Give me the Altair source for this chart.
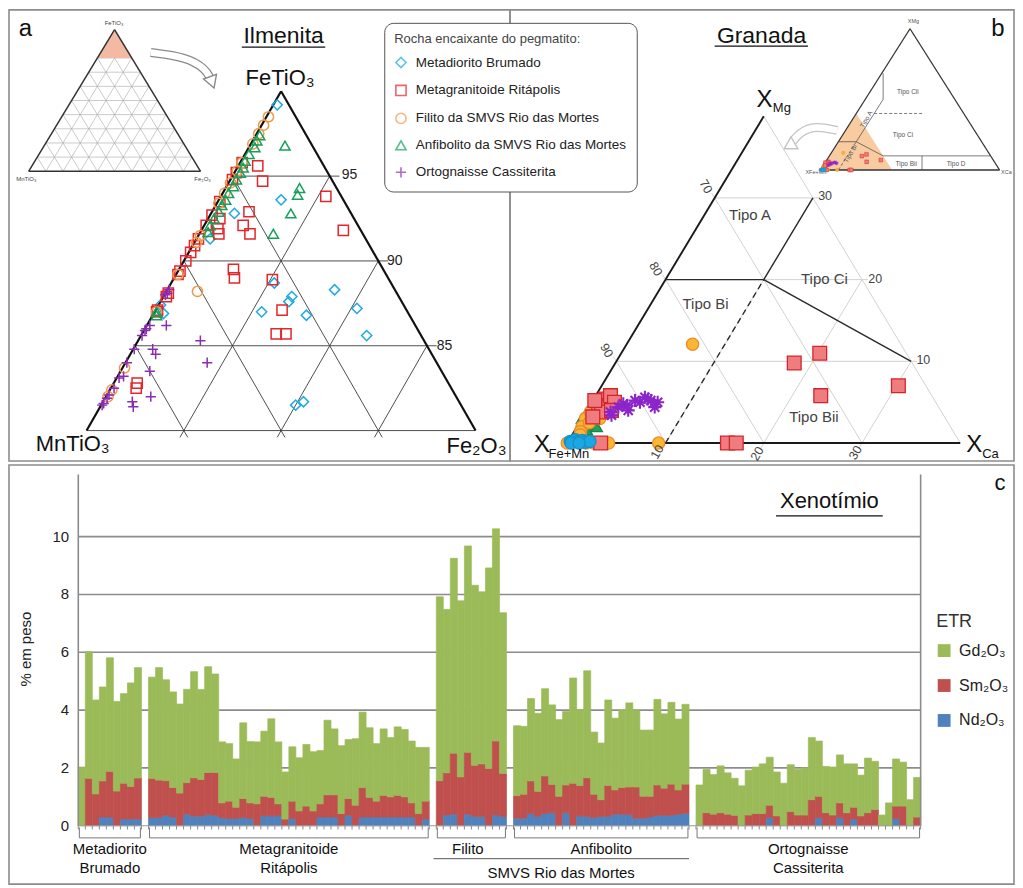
import altair as alt
import pandas as pd

FONT = "Liberation Sans"

# ======================= DATA =======================
# Painel a - Ilmenita: FeTiO3 (%) e Fe2O3 (%); MnTiO3 = 100 - soma
ilm_metadiorito_fetio3 = [99.2, 93.6, 92.8, 91.3, 88.7, 87.9, 87.6, 87.0, 86.8, 88.3, 87.2, 85.6, 81.5, 81.7, 86.9, 87.4]
ilm_metadiorito_fe2o3 = [0.2, 3.2, 1.2, 0.7, 5.3, 6.6, 6.6, 5.5, 7.9, 8.6, 10.3, 11.6, 10.0, 10.3, 0.5, 0.1]
ilm_metagranitoide_fetio3 = [95.6, 94.7, 93.8, 92.9, 92.1, 91.6, 91.9, 91.6, 91.8, 89.5, 89.0, 88.9, 87.1, 85.7, 85.7, 82.8, 82.5,
                             95.8, 95.2, 94.8, 93.5, 92.7, 92.5, 92.1, 91.3, 90.9, 90.5, 90.0, 89.4, 89.2, 88.1, 87.9, 87.1, 87.0]
ilm_metagranitoide_fe2o3 = [1.0, 1.7, 5.4, 1.9, 2.0, 2.6, 0.8, 1.0, 7.3, 2.8, 3.1, 5.1, 6.5, 6.9, 7.4, 1.2, 1.3,
                            0.1, 0.1, 0.1, 0.1, 0.1, 0.6, 0.1, 0.1, 0.1, 0.1, 0.1, 0.1, 0.1, 0.15, 0.15, 0.1, 0.1]
ilm_filito_fetio3 = [98.5, 98.0, 97.5, 96.9, 95.8, 95.3, 94.6, 94.0, 93.4, 91.5, 91.1, 89.2, 87.0, 83.7, 82.4, 82.0, 88.2]
ilm_filito_fe2o3 = [0.1, 0.1, 0.1, 0.1, 0.1, 0.1, 0.1, 0.1, 0.1, 0.1, 0.1, 0.1, 0.1, 0.1, 0.1, 0.1, 1.6]
ilm_anfibolito_fetio3 = [96.8, 94.3, 93.9, 92.8, 91.6, 97.4, 97.1, 96.7, 96.3, 95.9, 95.5, 95.2, 94.8, 94.4, 94.0, 93.6,
                         93.3, 92.9, 92.5, 92.1, 91.7, 87.0, 86.8]
ilm_anfibolito_fe2o3 = [1.8, 3.8, 3.9, 4.1, 3.8, 0.2, 0.2, 0.3, 0.2, 0.2, 0.3, 0.3, 0.3, 0.35, 0.3, 0.35,
                        0.3, 0.35, 0.3, 0.3, 0.4, 0.1, 0.2]
ilm_ortognaisse_fetio3 = [88.3, 88.1, 88.0, 86.2, 86.0, 86.2, 85.3, 84.0, 84.8, 84.5, 83.5, 82.0, 81.7, 81.4, 83.2,
                          82.5, 81.9, 81.6, 85.6, 84.8, 85.9, 84.0, 83.1, 82.1, 81.5]
ilm_ortognaisse_fe2o3 = [0.1, 0.1, 0.05, 0.15, 0.07, 1.0, 3.2, 4.2, 1.0, 1.3, 1.5, 2.3, 1.5, 1.7, 0.3,
                         0.16, 0.1, 0.08, 0.05, 0.05, 0.05, 0.07, 0.12, 0.1, 0.05]

# Painel b - Granada: X_Ca (%) e X_Mg (%); X_Fe+Mn = 100 - soma
grt_metadiorito_ca = [0.2, 0.6, 1.0, 1.4, 1.8, 2.2, 0.4, 1.2]
grt_metadiorito_mg = [0.2, 0.4, 0.2, 0.3, 0.1, 0.2, 0.0, 0.0]
grt_metagranitoide_ca = [20.2, 18.2, 22.9, 30.2, 16.3, 17.2, 1.2, 0.9, 2.0, 1.6, 1.5, 0.2, 2.3, 1.0, 2.5, 3.4]
grt_metagranitoide_mg = [11.0, 9.8, 5.8, 7.0, 0.0, 0.0, 5.4, 4.6, 4.4, 3.8, 5.8, 5.2, 5.0, 3.2, 4.0, 0.0]
grt_filito_ca = [6.7, 0.0, 2.7, 4.2, 9.3, 1.9, 0.35, 0.45, 0.5, 1.45, 0.56, 0.64, 1.0, 1.8, 2.2, 0.8]
grt_filito_mg = [12.1, 0.0, 0.0, 0.0, 0.0, 0.0, 3.0, 3.8, 2.0, 3.8, 4.6, 1.4, 2.5, 3.0, 4.2, 1.0]
grt_anfibolito_ca = [0.0, 0.1, 0.9, 1.5, 0.36, 0.5, 2.0, 0.2, 1.2]
grt_anfibolito_mg = [3.0, 3.8, 2.2, 2.4, 5.0, 4.2, 2.0, 2.6, 1.6]
grt_ortognaisse_ca = [2.8, 3.3, 4.3, 5.1, 6.7, 6.7, 4.2, 3.0, 4.9, 5.5, 3.8, 2.5, 5.9]
grt_ortognaisse_mg = [3.4, 4.8, 5.2, 5.6, 5.0, 4.4, 4.0, 4.4, 5.0, 5.4, 4.6, 3.8, 5.2]

# Painel c - Xenotimio (% em peso)
xen_metadiorito_gd = [2.03, 4.38, 3.25, 3.25, 3.93, 3.10, 3.10, 3.58, 3.82]
xen_metadiorito_sm = [0.00, 1.64, 1.10, 1.25, 1.58, 1.20, 1.24, 1.13, 1.42]
xen_metadiorito_nd = [0.00, 0.00, 0.00, 0.30, 0.30, 0.00, 0.23, 0.23, 0.23]
xen_metagranitoide_gd = [3.50, 3.89, 3.49, 3.31, 3.08, 3.23, 3.67, 3.11, 3.66, 3.41,
                         2.11, 1.99, 1.67, 2.62, 2.12, 2.14, 2.25, 2.72, 2.14, 1.63,
                         1.88, 1.84, 2.13, 2.05, 1.84, 2.58, 2.28, 2.35, 2.04, 2.30,
                         2.61, 2.41, 1.99, 2.30, 2.05, 2.37, 2.33, 2.14, 2.29, 1.86]
xen_metagranitoide_sm = [1.36, 1.30, 1.20, 1.02, 1.13, 1.09, 1.33, 1.27, 1.46, 1.48,
                         0.51, 0.60, 0.39, 0.66, 0.54, 0.76, 0.68, 0.64, 0.42, 0.23,
                         0.60, 0.51, 0.68, 0.51, 0.46, 0.77, 0.77, 0.42, 0.58, 0.71,
                         1.02, 0.68, 0.55, 0.75, 0.70, 0.75, 0.70, 0.49, 0.42, 0.62]
xen_metagranitoide_nd = [0.28, 0.28, 0.36, 0.30, 0.00, 0.40, 0.33, 0.33, 0.38, 0.36,
                         0.28, 0.25, 0.25, 0.28, 0.25, 0.00, 0.34, 0.34, 0.34, 0.00,
                         0.25, 0.00, 0.00, 0.00, 0.30, 0.30, 0.30, 0.00, 0.36, 0.00,
                         0.30, 0.30, 0.30, 0.30, 0.30, 0.30, 0.30, 0.30, 0.00, 0.23]
xen_filito_gd = [6.36, 5.65, 6.74, 6.09, 7.14, 6.23, 5.95, 6.94, 7.34, 5.56]
xen_filito_sm = [1.56, 1.46, 2.11, 1.69, 2.14, 1.77, 1.82, 1.98, 2.56, 1.49]
xen_filito_nd = [0.00, 0.37, 0.40, 0.00, 0.40, 0.32, 0.32, 0.00, 0.37, 0.32]
xen_anfibolito_gd = [2.42, 2.35, 2.85, 2.70, 3.02, 2.75, 2.65, 2.54, 3.64, 2.62,
                     3.70, 2.15, 1.96, 2.96, 2.48, 2.68, 2.91, 2.66, 2.29, 2.29,
                     2.96, 2.57, 2.83, 2.45, 2.76]
xen_anfibolito_sm = [0.78, 0.83, 1.13, 0.87, 1.30, 0.98, 1.02, 0.96, 1.47, 1.05,
                     1.34, 0.81, 0.58, 1.07, 0.84, 0.92, 0.96, 1.08, 0.76, 0.72,
                     1.05, 0.94, 1.08, 0.84, 1.01]
xen_anfibolito_nd = [0.26, 0.26, 0.42, 0.32, 0.42, 0.45, 0.00, 0.45, 0.00, 0.34,
                     0.32, 0.28, 0.32, 0.32, 0.40, 0.40, 0.38, 0.26, 0.26, 0.30,
                     0.36, 0.36, 0.36, 0.40, 0.43]
xen_ortognaisse_gd = [1.41, 1.50, 1.37, 1.62, 1.43, 1.28, 1.38, 1.55, 1.61, 1.72,
                      1.66, 1.52, 1.47, 1.62, 1.58, 1.63, 2.15, 1.91, 1.60, 1.66,
                      1.66, 1.69, 1.50, 1.41, 1.89, 1.67, 0.37, 0.79, 1.63, 1.52,
                      0.90, 1.37]
xen_ortognaisse_sm = [0.00, 0.45, 0.40, 0.45, 0.40, 0.36, 0.00, 0.37, 0.42, 0.42,
                      0.43, 0.34, 0.00, 0.49, 0.37, 0.37, 0.90, 0.74, 0.45, 0.37,
                      0.51, 0.45, 0.41, 0.34, 0.45, 0.56, 0.00, 0.00, 0.43, 0.68,
                      0.00, 0.30]
xen_ortognaisse_nd = [0.00, 0.00, 0.00, 0.00, 0.00, 0.00, 0.00, 0.00, 0.00, 0.00,
                      0.28, 0.00, 0.00, 0.00, 0.00, 0.00, 0.00, 0.28, 0.00, 0.00,
                      0.28, 0.00, 0.23, 0.00, 0.00, 0.00, 0.00, 0.00, 0.25, 0.00,
                      0.00, 0.00]
xen_grupos_l1 = ["Metadiorito", "Metagranitoide", "Filito", "Anfibolito", "Ortognaisse"]
xen_grupos_l2 = ["Brumado", "Ritápolis", "", "", "Cassiterita"]
xen_grupo_inicio = [0, 10, 51, 62, 88]
xen_yticks = [0, 2, 4, 6, 8, 10]
ETR = ["Gd₂O₃", "Sm₂O₃", "Nd₂O₃"]
ETR_COR = ["#9BBB59", "#C0504D", "#4F81BD"]

SERIES = ["Metadiorito Brumado", "Metagranitoide Ritápolis", "Filito da SMVS Rio das Mortes",
          "Anfibolito da SMVS Rio das Mortes", "Ortognaisse Cassiterita"]
COR = ["#1FA9E1", "#E3262C", "#F0994A", "#17A05C", "#8A2DB2"]
CROSS = "M-1,0H1M0,-1V1"
ASTER = "M-1,0H1M0,-1V1M-0.7,-0.7L0.7,0.7M-0.7,0.7L0.7,-0.7"
FORMA = ["diamond", "square", "circle", "triangle-up", CROSS]

# ======================= HELPERS =======================
WA, WB, HT = 502, 505, 452
WC, HC = 1007, 420


def sc(lo, hi):
    return alt.Scale(domain=[lo, hi], nice=False, zero=False)


def xy(xs, ys, x2=False, y2=False):
    e = {"x": alt.X("x:Q", scale=xs, axis=None), "y": alt.Y("y:Q", scale=ys, axis=None)}
    if x2:
        e["x2"] = alt.X2("x2:Q")
    if y2:
        e["y2"] = alt.Y2("y2:Q")
    return e


def textos(rows, xs, ys, **mk):
    df = pd.DataFrame(rows, columns=["x", "y", "t"])
    return alt.Chart(df).mark_text(font=FONT, **mk).encode(text="t:N", **xy(xs, ys))


def regras(rows, xs, ys, **mk):
    df = pd.DataFrame(rows, columns=["x", "y", "x2", "y2"])
    return alt.Chart(df).mark_rule(**mk).encode(**xy(xs, ys, True, True))


TERN = {
    "main": ("datum.{r} + datum.{t}/2", "datum.{t}*0.8660254"),
    "ins_a": ("37.02 + 0.08838*(datum.{r} + datum.{t}/2)", "82.52 + 0.07226*datum.{t}"),
    "ins_b": ("25.77 + 0.1823*(datum.{r} + datum.{t}/2)", "28.94 + 0.1497*datum.{t}"),
}


def fx(kind, t, r):
    return TERN[kind][0].format(t=t, r=r)


def fy(kind, t, r):
    return TERN[kind][1].format(t=t, r=r)


def tern_segs(rows, kind, xs, ys, **mk):
    df = pd.DataFrame(rows, columns=["t1", "r1", "t2", "r2"])
    return (alt.Chart(df)
            .transform_calculate(x=fx(kind, "t1", "r1"), y=fy(kind, "t1", "r1"),
                                 x2=fx(kind, "t2", "r2"), y2=fy(kind, "t2", "r2"))
            .mark_rule(**mk).encode(**xy(xs, ys, True, True)))


def tern_area(rows, t_base, kind, xs, ys, **mk):
    df = pd.DataFrame(rows, columns=["t", "r"])
    df["tb"] = t_base
    return (alt.Chart(df)
            .transform_calculate(x=fx(kind, "t", "r"), y=fy(kind, "t", "r"), y2=fy(kind, "tb", "r"))
            .mark_area(**mk).encode(**xy(xs, ys, y2=True)))


def tern_pts(t, r, kind, xs, ys, **mk):
    df = pd.DataFrame({"t": t, "r": r})
    return (alt.Chart(df)
            .transform_calculate(x=fx(kind, "t", "r"), y=fy(kind, "t", "r"))
            .mark_point(**mk).encode(**xy(xs, ys)))


def arrow(pts, head, xs, ys, color, shape, angle):
    df = pd.DataFrame(pts, columns=["x", "y"])
    outer = alt.Chart(df).mark_line(interpolate="basis", color=color, strokeWidth=9).encode(**xy(xs, ys))
    inner = alt.Chart(df).mark_line(interpolate="basis", color="white", strokeWidth=6.5).encode(**xy(xs, ys))
    hd = alt.Chart(pd.DataFrame([head], columns=["x", "y"])).mark_point(
        shape=shape, filled=True, fill="white", stroke=color, strokeWidth=1.4, size=190,
        angle=angle, opacity=1).encode(**xy(xs, ys))
    return [outer, inner, hd]


# ======================= PANEL A =======================
xa, ya = sc(36.01, 61.77), sc(67.73, 90.76)

ins_grid = []
for k in range(10, 100, 10):
    ins_grid += [(k, 0, k, 100 - k), (0, k, 100 - k, k), (0, 100 - k, 100 - k, 0)]
ins_edges = [(100, 0, 0, 0), (0, 0, 0, 100), (100, 0, 0, 100)]

main_grid = []
for k in (85, 90, 95):
    main_grid.append((k, 0, k, 100 - k + 0.5))
for k in (5, 10, 15):
    main_grid.append((79.6, k, 100 - k, k))
    main_grid.append((79.6, 20.4 - k, 100 - k, 0))
main_grid.append((80, 0, 80, 20))
main_edges = [(80, 0, 100, 0), (80, 20, 100, 0)]

ilm = [(SERIES[0], ilm_metadiorito_fetio3, ilm_metadiorito_fe2o3),
       (SERIES[1], ilm_metagranitoide_fetio3, ilm_metagranitoide_fe2o3),
       (SERIES[2], ilm_filito_fetio3, ilm_filito_fe2o3),
       (SERIES[3], ilm_anfibolito_fetio3, ilm_anfibolito_fe2o3),
       (SERIES[4], ilm_ortognaisse_fetio3, ilm_ortognaisse_fe2o3)]
dfa = pd.concat([pd.DataFrame({"t": t, "r": r, "serie": s}) for s, t, r in ilm], ignore_index=True)

pts_a = (alt.Chart(dfa)
         .transform_calculate(x=fx("main", "t", "r"), y=fy("main", "t", "r"))
         .mark_point(filled=False, size=105, strokeWidth=1.5, opacity=1)
         .encode(color=alt.Color("serie:N", scale=alt.Scale(domain=SERIES, range=COR), legend=None),
                 shape=alt.Shape("serie:N", scale=alt.Scale(domain=SERIES, range=FORMA), legend=None),
                 **xy(xa, ya)))

layers_a = [
    tern_segs(ins_grid, "ins_a", xa, ya, color="#a8a8a8", strokeWidth=0.6),
    tern_area([(80, 0), (100, 0), (80, 20)], 80, "ins_a", xa, ya, color="#F4B9A3", opacity=1),
    tern_segs(ins_edges, "ins_a", xa, ya, color="#333333", strokeWidth=1.5),
    textos([(41.41, 90.08, "FeTiO₃"), (36.9, 82.15, "MnTiO₃"), (45.96, 82.15, "Fe₂O₃")], xa, ya,
           fontSize=6, color="#444"),
    *arrow([(43.3, 88.58), (45.1, 88.36), (46.11, 87.76), (46.36, 87.26)], (46.45, 87.06),
           xa, ya, "#8a8a8a", "triangle-down", 340),
    tern_segs(main_grid, "main", xa, ya, color="#3a3a3a", strokeWidth=0.9),
    tern_segs(main_edges, "main", xa, ya, color="#111111", strokeWidth=2.2),
    pts_a,
    textos([(49.95, 87.26, "FeTiO₃"), (39.29, 68.58, "MnTiO₃"), (60.05, 68.5, "Fe₂O₃")], xa, ya,
           fontSize=22, color="#111"),
    textos([(53.52, 82.35, "95"), (55.84, 77.96, "90"), (58.4, 73.62, "85")], xa, ya,
           fontSize=14, color="#222"),
    textos([(50.13, 89.41, "Ilmenita")], xa, ya, fontSize=23, color="#111"),
    regras([(47.98, 88.86, 52.27, 88.86)], xa, ya, color="#111", strokeWidth=1.3),
    textos([(36.85, 89.76, "a")], xa, ya, fontSize=24, color="#111"),
]
panel_a = alt.layer(*layers_a).properties(width=WA, height=HT)

# ======================= PANEL B =======================
xb, yb = sc(-5.83, 45.47), sc(-1.90, 45.91)

grid_b = []
for k in (10, 20, 30):
    grid_b.append((k, 0, k, 40 - k + 0.6))          # X_Mg constante
    grid_b.append((-0.6, k, 40 - k, k))               # X_Ca constante
    grid_b.append((k + 0.6, -0.6, 0, k))              # X_Fe+Mn constante
grid_b.append((40, 0, 0, 40))
edges_b = [(0, 0, 40, 0), (0, 0, 0, 40)]
bound_b = [(20, 0, 20, 10), (20, 10, 30, 10), (20, 10, 10, 30)]
dash_b = [(0, 10, 20, 10)]
ins_edges_b = [(100, 0, 0, 0), (0, 0, 0, 100), (100, 0, 0, 100)]
ins_bound_b = [(10, 30, 10, 90), (20, 0, 20, 10), (20, 10, 10, 30), (20, 10, 50, 10),
               (50, 10, 68, 1), (68, 1, 69, 0), (0, 56.7, 10, 51.7)]
ins_dash_b = [(0, 10, 20, 10), (40, 10, 40, 37)]

grt = [(SERIES[3], grt_anfibolito_mg, grt_anfibolito_ca),
       (SERIES[2], grt_filito_mg, grt_filito_ca),
       (SERIES[1], grt_metagranitoide_mg, grt_metagranitoide_ca),
       (SERIES[0], grt_metadiorito_mg, grt_metadiorito_ca),
       (SERIES[4], grt_ortognaisse_mg, grt_ortognaisse_ca)]
ESTILO_B = {
    SERIES[0]: dict(shape="circle", filled=True, fill="#1CA7E3", stroke="#1590C8", size=150),
    SERIES[1]: dict(shape="square", filled=True, fill="#EF7C7E", stroke="#D3252B", size=190),
    SERIES[2]: dict(shape="circle", filled=True, fill="#FBB731", stroke="#EE8A2E", size=150),
    SERIES[3]: dict(shape="triangle-up", filled=True, fill="#1FA05A", stroke="#14884A", size=130),
    SERIES[4]: dict(shape=ASTER, filled=False, color="#8B25C9", size=170),
}

pts_b = []
for s, mg, ca in grt:
    st = dict(ESTILO_B[s])
    sz = st.pop("size")
    pts_b.append(tern_pts(mg, ca, "ins_b", xb, yb, size=max(sz / 14, 7), strokeWidth=0.5, opacity=1, **st))
for s, mg, ca in grt:
    st = dict(ESTILO_B[s])
    sz = st.pop("size")
    sw = 2.1 if s == SERIES[4] else 1.3
    pts_b.append(tern_pts(mg, ca, "main", xb, yb, size=sz, strokeWidth=sw, opacity=1, **st))

leg = alt.Legend(title="Rocha encaixante do pegmatito:", orient="none", legendX=376 - WA, legendY=13,
                 titleFont=FONT, titleFontSize=13, titleFontWeight="normal", titleColor="#444",
                 titleLimit=400, labelFont=FONT, labelFontSize=13.5, labelColor="#222", labelLimit=320,
                 symbolSize=105, symbolStrokeWidth=1.6, rowPadding=10, padding=10, titlePadding=10,
                 labelOffset=8, strokeColor="#555", cornerRadius=9, fillColor="white")
legend_layer = (alt.Chart(dfa).transform_filter("datum.t < 0")
                .mark_point(filled=False, size=105, strokeWidth=1.6)
                .encode(x=alt.X("t:Q", scale=xb, axis=None), y=alt.Y("r:Q", scale=yb, axis=None),
                        color=alt.Color("serie:N", scale=alt.Scale(domain=SERIES, range=COR), legend=leg),
                        shape=alt.Shape("serie:N", scale=alt.Scale(domain=SERIES, range=FORMA), legend=leg)))

layers_b = [
    tern_area([(0, 0), (40, 0), (0, 40)], 0, "ins_b", xb, yb, color="#F8CBA0", opacity=1),
    tern_segs(ins_edges_b, "ins_b", xb, yb, color="#333333", strokeWidth=1.3),
    tern_segs(ins_bound_b, "ins_b", xb, yb, color="#444444", strokeWidth=0.7),
    tern_segs(ins_dash_b, "ins_b", xb, yb, color="#444444", strokeWidth=0.7, strokeDash=[3, 2]),
    textos([(34.67, 37.18, "Tipo Cii"), (34.17, 32.68, "Tipo Ci"), (34.5, 29.56, "Tipo Bii"),
            (39.57, 29.56, "Tipo D")], xb, yb, fontSize=6.5, color="#555"),
    textos([(30.44, 34.3, "Tipo A"), (28.84, 30.67, "Tipo Bi")], xb, yb, fontSize=6.5, color="#555", angle=300),
    textos([(35.24, 44.7, "XMg"), (25.3, 28.76, "XFe+Mn"), (44.7, 28.76, "XCa")], xb, yb,
           fontSize=5.5, color="#555"),
    *arrow([(27.47, 33.13), (25.17, 33.65), (23.67, 32.92), (22.87, 31.88)], (22.6, 31.5),
           xb, yb, "#c4c4c4", "triangle-left", 330),
    tern_segs(grid_b, "main", xb, yb, color="#d2d2d2", strokeWidth=1),
    tern_segs(edges_b, "main", xb, yb, color="#1a1a1a", strokeWidth=1.9),
    tern_segs(bound_b, "main", xb, yb, color="#2a2a2a", strokeWidth=1.4),
    tern_segs(dash_b, "main", xb, yb, color="#2a2a2a", strokeWidth=1.4, strokeDash=[6, 4]),
    *pts_b,
    textos([(20.07, 36.38, "X"), (-2.58, -0.17, "X"), (41.42, -0.17, "X")], xb, yb, fontSize=24, color="#111"),
    textos([(21.84, 35.52, "Mg"), (0.17, -1.14, "Fe+Mn"), (43.07, -1.14, "Ca")], xb, yb,
           fontSize=13, color="#111"),
    textos([(14.1, 27.2, "70"), (9.0, 18.44, "80"), (4.0, 9.81, "90")], xb, yb, fontSize=12.5,
           color="#444", angle=60),
    textos([(26.24, 26.16, "30"), (31.34, 17.43, "20"), (36.24, 8.84, "10")], xb, yb, fontSize=12.5,
           color="#444"),
    textos([(9.17, -0.94, "10"), (19.34, -1.14, "20"), (29.34, -1.04, "30")], xb, yb, fontSize=12.5,
           color="#444", angle=300),
    textos([(18.6, 24.19, "Tipo A"), (26.17, 17.43, "Tipo Ci"), (14.07, 14.73, "Tipo Bi"),
            (25.1, 2.78, "Tipo Bii")], xb, yb, fontSize=15, color="#444"),
    textos([(19.77, 43.14, "Granada")], xb, yb, fontSize=23, color="#111"),
    regras([(15.0, 42.07, 24.5, 42.07)], xb, yb, color="#111", strokeWidth=1.3),
    textos([(43.84, 43.84, "b")], xb, yb, fontSize=24, color="#111"),
    legend_layer,
]
panel_b = alt.layer(*layers_b).properties(width=WB, height=HT)

# ======================= PANEL C =======================
xc, yc = sc(-9.87, 133.3), sc(-2.02, 12.48)
grupos = [(xen_metadiorito_gd, xen_metadiorito_sm, xen_metadiorito_nd),
          (xen_metagranitoide_gd, xen_metagranitoide_sm, xen_metagranitoide_nd),
          (xen_filito_gd, xen_filito_sm, xen_filito_nd),
          (xen_anfibolito_gd, xen_anfibolito_sm, xen_anfibolito_nd),
          (xen_ortognaisse_gd, xen_ortognaisse_sm, xen_ortognaisse_nd)]
rows = []
spans = []
for s0, (gd, sm, nd) in zip(xen_grupo_inicio, grupos):
    for i in range(len(gd)):
        rows += [(s0 + i, ETR[2], nd[i], 0), (s0 + i, ETR[1], sm[i], 1), (s0 + i, ETR[0], gd[i], 2)]
    spans.append((s0, s0 + len(gd)))
dfc = pd.DataFrame(rows, columns=["idx", "ETR", "valor", "ordem"])
n_slots = spans[-1][1]

etr_scale = alt.Scale(domain=ETR, range=ETR_COR)
legc = alt.Legend(title="ETR", orient="none", legendX=929, legendY=148, titleFont=FONT, labelFont=FONT,
                  titleFontSize=18, titleFontWeight="normal", titleColor="#333", labelFontSize=16,
                  labelColor="#222", symbolType="square", symbolSize=165, rowPadding=19, titlePadding=12,
                  labelOffset=7, symbolStrokeWidth=0)
bars = (alt.Chart(dfc)
        .transform_filter("datum.valor > 0")
        .transform_stack(stack="valor", groupby=["idx"], as_=["y", "y2"], sort=[alt.SortField("ordem", "ascending")])
        .transform_calculate(x="datum.idx", x2="datum.idx + 1")
        .mark_rect(strokeWidth=0.7)
        .encode(color=alt.Color("ETR:N", scale=etr_scale, legend=legc),
                stroke=alt.Stroke("ETR:N", scale=etr_scale, legend=None),
                **xy(xc, yc, True, True)))

grid_c = [(0, v, n_slots, v) for v in xen_yticks if v > 0]
frame_c = [(0, 0, 0, 12.15), (n_slots, 0, n_slots, 12.15)]
ticks_c = [(i, 0, i, -0.13) for i in range(n_slots + 1)]
brk = []
for a, b in spans:
    brk += [(a + 0.15, -0.06, a + 0.15, -0.42), (b - 0.15, -0.06, b - 0.15, -0.42), (a + 0.15, -0.42, b - 0.15, -0.42)]
lab1 = [((a + b) / 2 - (0.5 if t == "Filito" else 0), -0.8, t) for (a, b), t in zip(spans, xen_grupos_l1)]
lab2 = [((a + b) / 2, -1.45, t) for (a, b), t in zip(spans, xen_grupos_l2) if t]

layers_c = [
    regras(grid_c, xc, yc, color="#8c8c8c", strokeWidth=1.6),
    bars,
    regras(frame_c, xc, yc, color="#8c8c8c", strokeWidth=1.6),
    regras([(0, 0, n_slots, 0)], xc, yc, color="#9a9a9a", strokeWidth=1),
    regras(ticks_c, xc, yc, color="#8a8a8a", strokeWidth=1),
    regras(brk, xc, yc, color="#777777", strokeWidth=1),
    regras([(50.6, -1.14, 87.0, -1.14)], xc, yc, color="#555555", strokeWidth=1),
    textos([(-1.3, v, str(v)) for v in xen_yticks], xc, yc, fontSize=15, color="#222", align="right"),
    textos([(-7.5, 6.11, "% em peso")], xc, yc, fontSize=15, color="#222", angle=270),
    textos(lab1, xc, yc, fontSize=15, color="#111"),
    textos(lab2, xc, yc, fontSize=15, color="#111"),
    textos([(68.8, -1.65, "SMVS Rio das Mortes")], xc, yc, fontSize=15, color="#111"),
    textos([(107.0, 11.23, "Xenotímio")], xc, yc, fontSize=22, color="#111"),
    regras([(99.4, 10.72, 114.6, 10.72)], xc, yc, color="#111", strokeWidth=1.3),
    textos([(131.3, 11.87, "c")], xc, yc, fontSize=22, color="#111"),
]
panel_c = alt.layer(*layers_c).properties(width=WC, height=HC)

# ======================= ASSEMBLY =======================
RES = dict(x="independent", y="independent", color="independent", shape="independent")
top = alt.hconcat(panel_a, panel_b, spacing=0).resolve_scale(**RES).properties(bounds="flush")
chart = (alt.vconcat(top, panel_c, spacing=0).resolve_scale(stroke="independent", **RES)
         .properties(padding=0, background="white")
         .configure(font=FONT)
         .configure_view(stroke="#8c8c8c", strokeWidth=1.6))

chart.save("out.html", embed_options={"renderer": "svg", "actions": False})
